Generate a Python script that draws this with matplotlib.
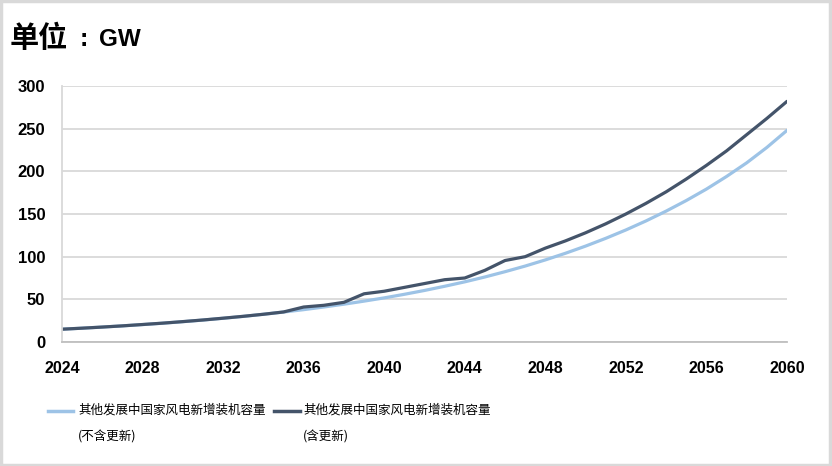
import matplotlib
matplotlib.use("Agg")
import matplotlib.pyplot as plt
from matplotlib.lines import Line2D
from matplotlib.patches import Rectangle

years = list(range(2024, 2061))
no_renewal = [15.0, 16.2, 17.5, 18.9, 20.4, 22.0, 23.8, 25.7, 27.8, 30.0,
              32.5, 35.1, 37.9, 41.0, 44.3, 47.9, 51.7, 55.9, 60.4, 65.3,
              70.5, 76.2, 82.4, 89.0, 96.2, 104.0, 112.4, 121.5, 131.3, 141.9,
              153.4, 165.8, 179.2, 194.0, 210.0, 228.0, 248.0]
with_renewal = [15.0, 16.2, 17.5, 18.9, 20.5, 22.1, 23.9, 25.8, 27.9, 30.1,
                32.5, 35.2, 41.0, 43.0, 46.5, 56.5, 59.5, 64.0, 68.5, 73.0,
                75.0, 84.0, 95.5, 100.0, 110.0, 118.5, 128.0, 138.5, 150.0, 162.5,
                176.0, 191.0, 207.0, 224.0, 243.0, 262.0, 282.0]
xticks = list(range(2024, 2061, 4))
yticks = [0, 50, 100, 150, 200, 250, 300]
label_main = "其他发展中国家风电新增装机容量"
label_sub = ["(不含更新)", "(含更新)"]
title_cn = "单位"
title_unit = "GW"

light = "#9DC3E6"
dark = "#44546A"
grid_c = "#D9D9D9"

W, H = 832, 466
fig = plt.figure(figsize=(W / 100, H / 100), dpi=100)
ax = fig.add_axes([62 / W, 1 - 342 / H, (787 - 62) / W, (342 - 86) / H])

l1, = ax.plot(years, no_renewal, color=light, lw=2.3, solid_capstyle="round",
              solid_joinstyle="round")
l2, = ax.plot(years, with_renewal, color=dark, lw=2.3, solid_capstyle="round",
              solid_joinstyle="round")

ax.set_xlim(2024, 2060)
ax.set_ylim(0, 300)
ax.set_xticks(xticks)
ax.set_yticks(yticks)
ax.yaxis.grid(True, color=grid_c, lw=1.3)
ax.set_axisbelow(True)
for s in ["top", "right"]:
    ax.spines[s].set_visible(False)
ax.spines["left"].set_color(grid_c)
ax.spines["left"].set_linewidth(1.3)
ax.spines["bottom"].set_color("#BFBFBF")
ax.spines["bottom"].set_linewidth(1.3)
ax.tick_params(axis="both", length=0)
ax.tick_params(axis="x", pad=13.5)
ax.tick_params(axis="y", pad=12)
for t in ax.get_xticklabels():
    t.set_fontfamily(["Liberation Sans Narrow", "Liberation Sans", "DejaVu Sans"])
    t.set_fontweight("bold")
    t.set_fontsize(11.5)
for t in ax.get_yticklabels():
    t.set_fontfamily(["Liberation Sans", "DejaVu Sans"])
    t.set_fontweight("bold")
    t.set_fontsize(12)

cjk = ["Noto Sans CJK SC", "DejaVu Sans"]
fig.text(10 / W, 1 - 38 / H, title_cn, fontsize=21, fontweight="bold",
         family=cjk, va="center", ha="left")
fig.text(80 / W, 1 - 46 / H, ":", fontsize=18, fontweight="bold",
         family=["Liberation Sans", "DejaVu Sans"], va="baseline", ha="left")
fig.text(99 / W, 1 - 46 / H, title_unit, fontsize=17.5, fontweight="bold",
         family=["Liberation Sans", "DejaVu Sans"], va="baseline", ha="left")

# legend (manual, handle aligned with first text line)
entries = [(l1, 48, 73, 78, label_sub[0]), (l2, 274, 300, 303, label_sub[1])]
for line, hx0, hx1, tx, sub in entries:
    fig.add_artist(Line2D([hx0 / W, hx1 / W], [1 - 411 / H, 1 - 411 / H],
                          transform=fig.transFigure, color=line.get_color(), lw=2.5))
    fig.text(tx / W, 1 - 410 / H, label_main, fontsize=9.0, family=cjk,
             va="center", ha="left")
    fig.text(tx / W, 1 - 437 / H, sub, fontsize=9.0, family=cjk,
             va="center", ha="left")

fig.add_artist(Rectangle((0.001, 0.002), 0.997, 0.995, transform=fig.transFigure,
                         fill=False, edgecolor=grid_c, lw=2.5))

fig.savefig("out.png", dpi=100)
